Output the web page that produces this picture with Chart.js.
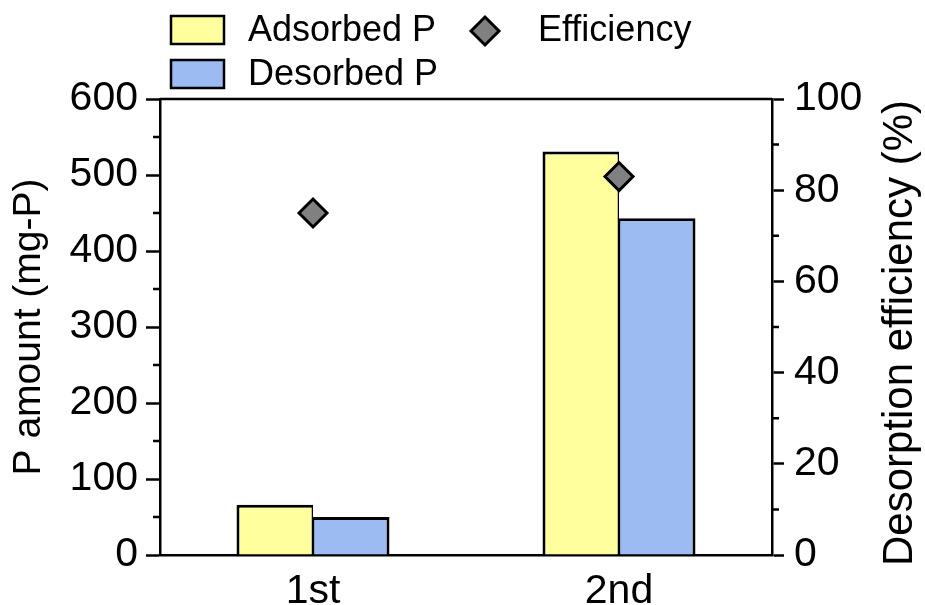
<!DOCTYPE html>
<html lang="en">
<head>
<meta charset="UTF-8" />
<title>P adsorption / desorption</title>
<style>
  html, body { margin: 0; padding: 0; background: #fff; }
  #wrap { width: 925px; height: 605px; }
</style>
</head>
<body>
<div id="wrap"><canvas id="chart"></canvas></div>
<script src="https://cdn.jsdelivr.net/npm/chart.js"></script>
<script>
  // data
  const cycles = ['1st', '2nd'];
  const adsorbedP = [66, 531];
  const desorbedP = [50, 443];
  const efficiency = [75, 83];

  // axes
  const leftMax = 600, leftStep = 100;
  const rightMax = 100, rightStep = 20;
  const leftMinor = [50, 150, 250, 350, 450, 550];
  const rightMinor = [10, 30, 50, 70, 90];
  const rightTitle = 'Desorption efficiency (%)';

  const FONT = "'Liberation Sans', Arial, sans-serif";
  const LW = 2.5;

  // top frame line, minor ticks, right title (reads bottom to top)
  const framePlugin = {
    id: 'frame',
    afterDraw(chart) {
      const { ctx, chartArea: a, scales } = chart;
      ctx.save();
      ctx.strokeStyle = '#000';
      ctx.lineWidth = LW;
      ctx.beginPath();
      ctx.moveTo(a.left, a.top);
      ctx.lineTo(a.right, a.top);
      leftMinor.forEach(v => {
        const y = scales.y.getPixelForValue(v);
        ctx.moveTo(a.left - 7, y);
        ctx.lineTo(a.left, y);
      });
      rightMinor.forEach(v => {
        const y = scales.y1.getPixelForValue(v);
        ctx.moveTo(a.right, y);
        ctx.lineTo(a.right + 7, y);
      });
      ctx.stroke();

      ctx.translate(912, (a.top + a.bottom) / 2 + 6);
      ctx.rotate(-Math.PI / 2);
      ctx.font = '42px ' + FONT;
      ctx.fillStyle = '#000';
      ctx.textAlign = 'center';
      ctx.textBaseline = 'alphabetic';
      ctx.fillText(rightTitle, 0, 0);
      ctx.restore();
    }
  };

  // two-column legend like the original
  const legendPlugin = {
    id: 'customLegend',
    afterDraw(chart) {
      const ctx = chart.ctx;
      const ds = chart.data.datasets;
      ctx.save();
      ctx.font = '36px ' + FONT;
      ctx.textBaseline = 'middle';
      ctx.lineWidth = LW;
      ctx.strokeStyle = '#000';

      const boxes = [[ds[0], 16], [ds[1], 60]];
      boxes.forEach(([d, top]) => {
        ctx.fillStyle = d.backgroundColor;
        ctx.fillRect(171, top, 53, 28);
        ctx.strokeRect(171, top, 53, 28);
        ctx.fillStyle = '#000';
        ctx.fillText(d.label, 248, top + 15);
      });

      const e = ds[2];
      const cx = 485, cy = 31, r = 14;
      ctx.beginPath();
      ctx.moveTo(cx - r, cy);
      ctx.lineTo(cx, cy - r);
      ctx.lineTo(cx + r, cy);
      ctx.lineTo(cx, cy + r);
      ctx.closePath();
      ctx.fillStyle = e.backgroundColor;
      ctx.fill();
      ctx.lineWidth = 3;
      ctx.stroke();
      ctx.fillStyle = '#000';
      ctx.fillText(e.label, 538, 31);
      ctx.restore();
    }
  };

  const ctx = document.getElementById('chart').getContext('2d');
  new Chart(ctx, {
    data: {
      labels: cycles,
      datasets: [
        {
          type: 'bar',
          label: 'Adsorbed P',
          data: adsorbedP,
          backgroundColor: '#FFFF9E',
          borderColor: '#000',
          // half border on the shared side so the seam is a single line
          borderWidth: { top: 3, left: 3, right: 1.5, bottom: 0 },
          yAxisID: 'y',
          categoryPercentage: 0.5,
          barPercentage: 1.0,
          order: 1
        },
        {
          type: 'bar',
          label: 'Desorbed P',
          data: desorbedP,
          backgroundColor: '#9BBBF2',
          borderColor: '#000',
          borderWidth: { top: 3, left: 1.5, right: 3, bottom: 0 },
          yAxisID: 'y',
          categoryPercentage: 0.5,
          barPercentage: 1.0,
          order: 1
        },
        {
          type: 'line',
          label: 'Efficiency',
          data: efficiency,
          yAxisID: 'y1',
          showLine: false,
          pointStyle: 'rectRot',
          pointRadius: 14,
          pointHoverRadius: 14,
          pointBackgroundColor: '#808080',
          backgroundColor: '#808080',
          pointBorderColor: '#000',
          pointBorderWidth: 3,
          order: 0
        }
      ]
    },
    options: {
      responsive: true,
      maintainAspectRatio: false,
      animation: false,
      layout: { padding: { top: 99 } },
      plugins: {
        legend: { display: false },
        tooltip: { enabled: false }
      },
      scales: {
        x: {
          grid: { display: false },
          border: { color: '#000', width: LW },
          ticks: { color: '#000', font: { family: FONT, size: 41 }, padding: 4 },
          afterFit: s => { s.height = 50; }
        },
        y: {
          position: 'left',
          min: 0,
          max: leftMax,
          ticks: { stepSize: leftStep, color: '#000', font: { family: FONT, size: 41 }, padding: 8 },
          grid: { drawOnChartArea: false, tickLength: 14, tickWidth: LW, tickColor: '#000' },
          border: { color: '#000', width: LW },
          title: { display: true, text: 'P amount (mg-P)', color: '#000', font: { family: FONT, size: 39 }, padding: { top: 6, bottom: 0 } },
          afterFit: s => { s.width = 160; }
        },
        y1: {
          position: 'right',
          min: 0,
          max: rightMax,
          ticks: { stepSize: rightStep, color: '#000', font: { family: FONT, size: 41 }, padding: 10 },
          grid: { drawOnChartArea: false, tickLength: 12, tickWidth: LW, tickColor: '#000' },
          border: { color: '#000', width: LW },
          title: { display: false },
          afterFit: s => { s.width = 153; }
        }
      }
    },
    plugins: [framePlugin, legendPlugin]
  });
</script>
</body>
</html>
